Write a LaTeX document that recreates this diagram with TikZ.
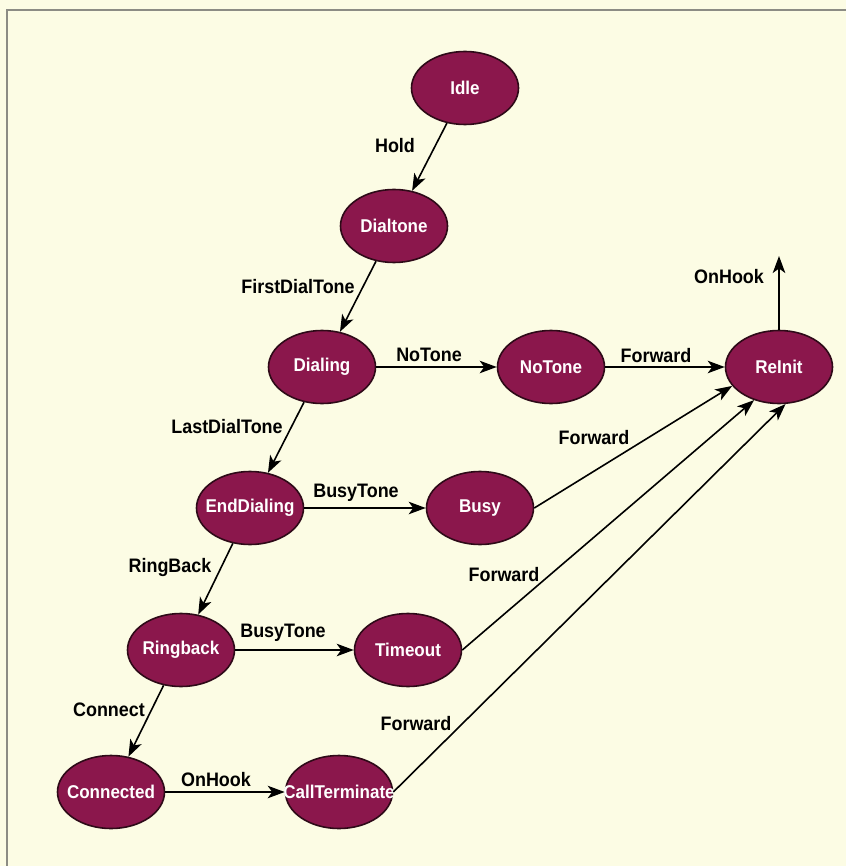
\documentclass[tikz,border=0pt]{standalone}
\usepackage{fontspec}
\setmainfont{Liberation Sans}
\newfontfamily\statefont[FakeStretch=0.92]{Liberation Sans}
\usetikzlibrary{shapes.geometric,arrows.meta}
\definecolor{paper}{HTML}{FCFCE4}
\definecolor{statefill}{HTML}{8B174C}
\definecolor{stateline}{HTML}{2E0A18}
\definecolor{framegray}{HTML}{8C8C84}
\newcommand\ctext[1]{\makebox[0pt]{#1}}
\begin{document}
\begin{tikzpicture}[x=1pt,y=-1pt,
  state/.style={ellipse, draw=stateline, line width=1.6pt, fill=statefill,
    minimum width=107pt, minimum height=73pt, inner sep=0pt,
    text=white, font=\statefont\fontsize{18.5}{18.5}\selectfont\bfseries},
  trans/.style={draw=black, line width=1.6pt,
    -{Stealth[length=17pt,width=12.5pt,inset=4.5pt]}},
  evt/.style={inner sep=0pt, font=\statefont\fontsize{19.5}{19.5}\selectfont\bfseries}]
  \useasboundingbox (0,0) rectangle (846,866);
  \fill[paper] (0,0) rectangle (846,866);
  % frame edges
  \draw[framegray, line width=2pt] (6,10) -- (846,10);
  \draw[framegray, line width=1.4pt] (7,10) -- (7,866);

  % states
  \node[state] (idle)    at (465,88)  {\ctext{Idle}};
  \node[state] (dialtone) at (394,226) {\ctext{Dialtone}};
  \node[state] (dialing) at (322,367) {\ctext{Dialing}};
  \node[state] (notone)  at (551,367) {\ctext{NoTone}};
  \node[state] (reinit)  at (779,367) {\ctext{ReInit}};
  \node[state] (enddial) at (250,508) {\ctext{EndDialing}};
  \node[state] (busy)    at (480,508) {\ctext{Busy}};
  \node[state] (ringback) at (181,650) {\ctext{Ringback}};
  \node[state] (timeout) at (408,650) {\ctext{Timeout}};
  \node[state] (connected) at (111,792) {\ctext{Connected}};
  \node[state] (callterm) at (339,792) {\ctext{CallTerminate}};
  \coordinate (exit) at (779,256);

  % transitions
  \draw[trans] (idle) -- (dialtone);
  \draw[trans] (dialtone) -- (dialing);
  \draw[trans] (dialing) -- (enddial);
  \draw[trans] (enddial) -- (ringback);
  \draw[trans] (ringback) -- (connected);
  \draw[trans] (dialing.east) -- (notone.west);
  \draw[trans] (notone.east) -- (reinit.west);
  \draw[trans] (enddial.east) -- (busy.west);
  \draw[trans] (ringback.east) -- (timeout.west);
  \draw[trans] (connected.east) -- (callterm.west);
  \draw[trans] (busy.east) -- (reinit.202);
  \draw[trans] (timeout.east) -- (reinit.233);
  \draw[trans] (callterm.east) -- (reinit.280);
  \draw[trans] (reinit.north) -- (exit);

  % events
  \node[evt] (l-hold)   at (395,146) {Hold};
  \node[evt] (l-first)  at (298,287) {FirstDialTone};
  \node[evt] (l-hook1)  at (729,277) {OnHook};
  \node[evt] (l-notone) at (429,355) {NoTone};
  \node[evt] (l-fwd1)   at (656,356) {Forward};
  \node[evt] (l-last)   at (227,427) {LastDialTone};
  \node[evt] (l-fwd2)   at (594,438) {Forward};
  \node[evt] (l-busy1)  at (356,493) {BusyTone};
  \node[evt] (l-ring)   at (170,567) {RingBack};
  \node[evt] (l-fwd3)   at (504,575) {Forward};
  \node[evt] (l-busy2)  at (283,633) {BusyTone};
  \node[evt] (l-conn)   at (109,710) {Connect};
  \node[evt] (l-fwd4)   at (416,724) {Forward};
  \node[evt] (l-hook2)  at (216,780) {OnHook};
\end{tikzpicture}
\end{document}
